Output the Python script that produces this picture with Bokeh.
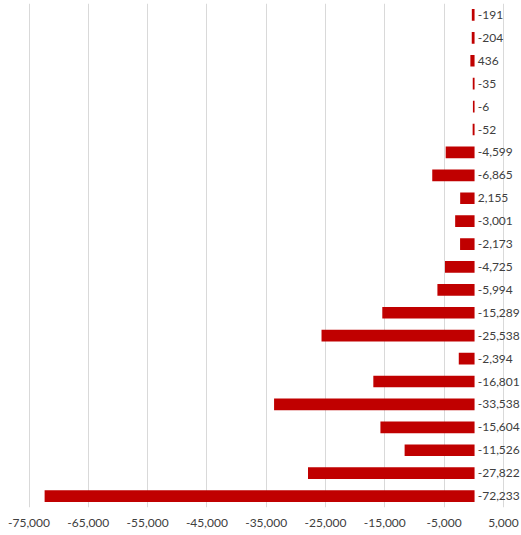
from bokeh.plotting import figure
from bokeh.models import ColumnDataSource, Range1d, FixedTicker, NumeralTickFormatter
from bokeh.core.properties import value
from bokeh.embed import file_html
from bokeh.resources import INLINE

# Data (top to bottom as shown)
values = [-191, -204, 436, -35, -6, -52, -4599, -6865, 2155, -3001, -2173,
          -4725, -5994, -15289, -25538, -2394, -16801, -33538, -15604,
          -11526, -27822, -72233]
labels = ["{:,}".format(v) for v in values]
x_ticks = [-75000, -65000, -55000, -45000, -35000, -25000, -15000, -5000, 5000]

positions = list(range(len(values)))
# In the reference every bar extends to the left of zero
bar_left = [-abs(v) for v in values]

src = ColumnDataSource(dict(y=positions, left=bar_left, right=[0] * len(values),
                            label=labels, lx=[0] * len(values)))

p = figure(frame_width=511, frame_height=504, output_backend="svg",
           toolbar_location=None, min_border_left=10, min_border_right=0,
           min_border_top=3, min_border_bottom=0,
           x_range=Range1d(-78120, 8050), y_range=Range1d(len(values) - 0.5, -0.5))

p.hbar(y="y", left="left", right="right", height=0.44, source=src,
       fill_color="#C00000", line_color="#C00000", line_width=1.6,
       line_join="miter")

p.text(x="lx", y="y", text="label", source=src, x_offset=4,
       text_align="left", text_baseline="middle", text_font=value("Lato"),
       text_font_size="12px", text_color="#404040")

p.outline_line_color = None
p.yaxis.visible = False
p.ygrid.grid_line_color = None
p.xgrid.grid_line_color = "#D9D9D9"
p.xgrid.grid_line_width = 1
p.xaxis.ticker = FixedTicker(ticks=x_ticks)
p.xaxis.formatter = NumeralTickFormatter(format="0,0")
p.xaxis.axis_line_color = None
p.xaxis.major_tick_line_color = None
p.xaxis.minor_tick_line_color = None
p.xaxis.major_tick_out = 0
p.xaxis.major_tick_in = 0
p.xaxis.major_label_standoff = 11
p.xaxis.major_label_text_font = "Lato"
p.xaxis.major_label_text_font_size = "12px"
p.xaxis.major_label_text_color = "#404040"
p.background_fill_color = "white"
p.border_fill_color = "white"

open("out.html", "w").write(file_html(p, INLINE))
